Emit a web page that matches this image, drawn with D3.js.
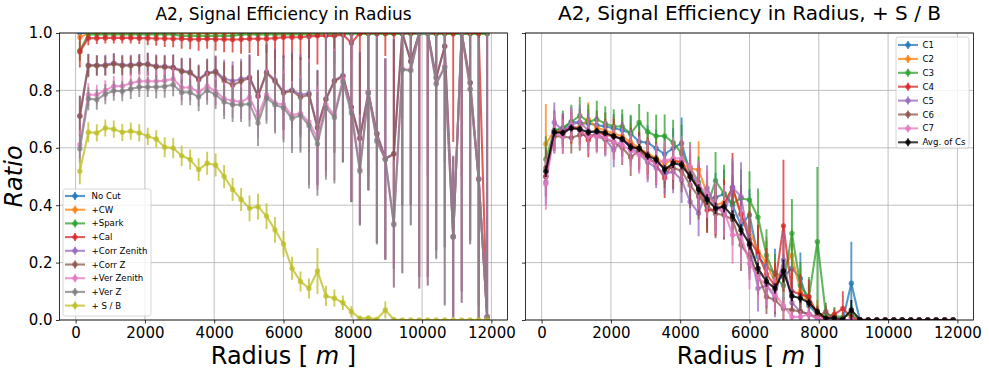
<!DOCTYPE html>
<html>
<head>
<meta charset="utf-8">
<title>A2, Signal Efficiency in Radius</title>
<script src="https://cdn.jsdelivr.net/npm/d3@7"></script>
<style>
  html, body { margin: 0; padding: 0; background: #ffffff; }
  svg text { font-family: "DejaVu Sans", sans-serif; fill: #000000; }
</style>
</head>
<body>
<div id="main"></div>
<script>
// ---- data ----
// bin centres of the radius histogram [m]
const radius = [122, 367, 612, 857, 1102, 1347, 1592, 1837, 2082, 2327, 2571, 2816, 3061, 3306, 3551, 3796, 4041,
  4286, 4531, 4776, 5020, 5265, 5510, 5755, 6000, 6245, 6490, 6735, 6980, 7224, 7469, 7714, 7959, 8204, 8449, 8694,
  8939, 9184, 9429, 9673, 9918, 10163, 10408, 10653, 10898, 11143, 11388, 11633, 11878];
const radiusTicks = [0, 2000, 4000, 6000, 8000, 10000, 12000];
const ratioTicks = [0.0, 0.2, 0.4, 0.6, 0.8, 1.0];

// left panel: cut flow
const cutNames = ['No Cut', '+CW', '+Spark', '+Cal', '+Corr Zenith', '+Corr Z', '+Ver Zenith', '+Ver Z', '+ S / B'];

const noCut = [1, 1, 1, 1, 1, 1, 1, 1, 1, 1, 1, 1, 1, 1, 1, 1, 1, 1, 1, 1, 1, 1, 1, 1, 1, 1, 1, 1, 1, 1, 1, 1, 1, 1, 1,
  1, 1, 1, 1, 1, 1, 1, 1, 1, 1, 1, 1, 1, 1];
const noCutErr = [0, 0, 0, 0, 0, 0, 0, 0, 0, 0, 0, 0, 0, 0, 0, 0, 0, 0, 0, 0, 0, 0, 0, 0, 0, 0, 0, 0, 0, 0, 0, 0, 0, 0,
  0, 0, 0, 0, 0, 0, 0, 0, 0, 0, 0, 0, 0, 0, 0];

const cw = [0.985, 0.999, 0.999, 0.999, 0.999, 0.999, 0.999, 0.999, 0.999, 0.999, 0.999, 0.999, 0.999, 0.999, 0.999,
  0.999, 0.999, 0.999, 0.999, 0.999, 0.999, 0.999, 0.999, 0.999, 0.999, 0.999, 0.999, 0.999, 0.999, 0.999, 0.999,
  0.999, 0.999, 0.999, 0.999, 0.999, 0.999, 0.999, 0.999, 0.999, 0.999, 0.999, 0.999, 0.999, 0.999, 0.999, 0.999,
  0.999, 0.999];
const cwErr = [0.01, 0.002, 0.002, 0.002, 0.002, 0.002, 0.002, 0.002, 0.002, 0.002, 0.002, 0.002, 0.002, 0.002, 0.002,
  0.002, 0.002, 0.002, 0.002, 0.002, 0.002, 0.002, 0.002, 0.002, 0.002, 0.002, 0.002, 0.002, 0.002, 0.002, 0.002,
  0.002, 0.002, 0.002, 0.002, 0.002, 0.002, 0.002, 0.002, 0.002, 0.002, 0.002, 0.002, 0.002, 0.002, 0.002, 0.002,
  0.002, 0.002];

const spark = [0.938, 0.995, 0.995, 0.995, 0.995, 0.995, 0.995, 0.995, 0.995, 0.995, 0.995, 0.995, 0.99, 0.99, 0.99,
  0.99, 0.99, 0.99, 0.99, 0.995, 0.995, 0.995, 0.995, 0.995, 0.995, 0.995, 0.995, 0.995, 0.995, 0.995, 0.995, 0.995,
  0.998, 0.997, 0.997, 0.997, 0.997, 0.997, 0.997, 0.997, 0.997, 0.997, 0.997, 0.997, 0.997, 0.997, 0.997, 0.997,
  0.997];
const sparkErr = [0.035, 0.006, 0.006, 0.006, 0.006, 0.006, 0.006, 0.006, 0.006, 0.006, 0.006, 0.006, 0.006, 0.006,
  0.006, 0.006, 0.006, 0.006, 0.006, 0.006, 0.006, 0.006, 0.006, 0.006, 0.006, 0.006, 0.006, 0.006, 0.006, 0.006,
  0.006, 0.006, 0.006, 0.006, 0.006, 0.006, 0.006, 0.006, 0.006, 0.006, 0.006, 0.006, 0.006, 0.006, 0.006, 0.006,
  0.006, 0.006, 0.006];

const cal = [0.935, 0.982, 0.982, 0.983, 0.983, 0.983, 0.983, 0.982, 0.982, 0.981, 0.981, 0.98, 0.98, 0.978, 0.978,
  0.98, 0.978, 0.978, 0.977, 0.978, 0.98, 0.98, 0.98, 0.982, 0.985, 0.985, 0.985, 0.988, 0.99, 0.99, 0.99, 0.995,
  0.965, 1, 1, 1, 1, 1, 1, 1, 1, 1, 1, 1, 1, 1, 1, 1, 0.0];
const calErr = [0.055, 0.025, 0.02, 0.02, 0.02, 0.02, 0.02, 0.02, 0.025, 0.025, 0.03, 0.03, 0.035, 0.035, 0.04, 0.035,
  0.04, 0.045, 0.045, 0.05, 0.05, 0.06, 0.05, 0.07, 0.07, 0.08, 0.08, 0.09, 0.1, 0.09, 0.1, 0.12, 0.06, 0.29, 0.5,
  0.45, 0.08, 0.55, 0.3, 0.6, 0.45, 0.5, 0.3, 0.45, 0.38, 0.5, 0.6, 0.95, 0.0];

const corrZenith = [0.712, 0.888, 0.888, 0.889, 0.895, 0.889, 0.889, 0.892, 0.892, 0.885, 0.884, 0.881, 0.869, 0.864,
  0.84, 0.861, 0.867, 0.842, 0.832, 0.84, 0.846, 0.782, 0.864, 0.836, 0.795, 0.802, 0.785, 0.79, 0.672, 0.771, 0.835,
  0.852, 0.742, 0.635, 0.794, 0.651, 0.563, 0.58, 1.0, 0.903, 1.0, 1.0, 0.845, 0.955, 0.292, 1.0, 0.828, 0.492, 0.012];
const corrZenithErr = [0.07, 0.04, 0.035, 0.035, 0.035, 0.035, 0.035, 0.035, 0.04, 0.04, 0.04, 0.045, 0.045, 0.05,
  0.05, 0.05, 0.055, 0.065, 0.07, 0.07, 0.08, 0.09, 0.1, 0.11, 0.13, 0.13, 0.14, 0.2, 0.2, 0.25, 0.25, 0.3, 0.33, 0.3,
  0.34, 0.38, 0.35, 0.4, 0.6, 0.5, 0.85, 0.85, 0.6, 0.7, 0.28, 0.9, 0.55, 0.5, 1.0];

const corrZ = [0.71, 0.886, 0.886, 0.886, 0.893, 0.886, 0.886, 0.89, 0.89, 0.882, 0.881, 0.878, 0.866, 0.861, 0.837,
  0.858, 0.864, 0.834, 0.818, 0.832, 0.843, 0.779, 0.861, 0.832, 0.791, 0.799, 0.776, 0.785, 0.669, 0.768, 0.832,
  0.849, 0.74, 0.632, 0.791, 0.648, 0.561, 0.578, 1.0, 0.901, 1.0, 1.0, 0.843, 0.953, 0.289, 1.0, 0.826, 0.49, 0.01];
const corrZErr = [0.07, 0.04, 0.035, 0.035, 0.035, 0.035, 0.035, 0.035, 0.04, 0.04, 0.04, 0.045, 0.045, 0.05, 0.05,
  0.05, 0.055, 0.065, 0.07, 0.07, 0.08, 0.09, 0.1, 0.11, 0.13, 0.13, 0.14, 0.2, 0.2, 0.25, 0.25, 0.3, 0.33, 0.3, 0.34,
  0.38, 0.35, 0.4, 0.6, 0.5, 0.85, 0.85, 0.6, 0.7, 0.28, 0.9, 0.55, 0.5, 1.0];

const verZenith = [0.611, 0.785, 0.785, 0.8, 0.815, 0.815, 0.825, 0.832, 0.832, 0.832, 0.834, 0.84, 0.81, 0.81, 0.795,
  0.815, 0.797, 0.771, 0.764, 0.76, 0.776, 0.713, 0.785, 0.756, 0.75, 0.713, 0.72, 0.69, 0.634, 0.75, 0.715, 0.84,
  0.73, 0.525, 0.795, 0.628, 0.561, 0.336, 0.875, 0.872, 1.0, 1.0, 0.826, 0.884, 0.292, 1.0, 0.806, 0.492, 0.012];
const verZenithErr = [0.05, 0.04, 0.035, 0.035, 0.035, 0.035, 0.035, 0.035, 0.035, 0.04, 0.04, 0.04, 0.045, 0.045,
  0.05, 0.05, 0.05, 0.06, 0.06, 0.06, 0.08, 0.08, 0.09, 0.1, 0.12, 0.12, 0.13, 0.22, 0.18, 0.25, 0.23, 0.28, 0.31,
  0.19, 0.34, 0.36, 0.35, 0.22, 0.71, 0.54, 0.89, 0.88, 0.61, 0.83, 0.28, 0.94, 0.54, 0.49, 1.0];

const verZ = [0.597, 0.771, 0.768, 0.787, 0.799, 0.797, 0.805, 0.812, 0.812, 0.812, 0.814, 0.82, 0.793, 0.793, 0.777,
  0.8, 0.785, 0.76, 0.75, 0.75, 0.753, 0.686, 0.774, 0.75, 0.739, 0.702, 0.713, 0.678, 0.613, 0.739, 0.706, 0.83,
  0.721, 0.518, 0.791, 0.623, 0.559, 0.332, 0.872, 0.869, 1.0, 1.0, 0.822, 0.88, 0.289, 1.0, 0.803, 0.49, 0.01];
const verZErr = [0.05, 0.04, 0.035, 0.035, 0.035, 0.035, 0.035, 0.035, 0.035, 0.04, 0.04, 0.04, 0.045, 0.045, 0.05,
  0.05, 0.05, 0.06, 0.06, 0.06, 0.08, 0.08, 0.09, 0.1, 0.12, 0.12, 0.13, 0.22, 0.18, 0.25, 0.23, 0.28, 0.31, 0.19,
  0.34, 0.36, 0.35, 0.22, 0.71, 0.54, 0.89, 0.88, 0.61, 0.83, 0.28, 0.94, 0.54, 0.49, 1.0];

const sOverB = [0.518, 0.654, 0.652, 0.669, 0.665, 0.654, 0.658, 0.652, 0.64, 0.631, 0.602, 0.599, 0.572, 0.559,
  0.524, 0.546, 0.54, 0.5, 0.455, 0.42, 0.389, 0.395, 0.362, 0.314, 0.265, 0.18, 0.134, 0.11, 0.171, 0.084, 0.076,
  0.06, 0.029, 0.006, 0.007, 0.003, 0.035, 0.002, 0, 0, 0, 0, 0, 0, 0, 0, 0, 0, 0];
const sOverBErr = [0.045, 0.035, 0.03, 0.03, 0.03, 0.03, 0.03, 0.03, 0.03, 0.03, 0.035, 0.035, 0.035, 0.035, 0.04,
  0.04, 0.04, 0.04, 0.04, 0.04, 0.045, 0.045, 0.045, 0.045, 0.045, 0.04, 0.035, 0.035, 0.08, 0.035, 0.03, 0.025, 0.02,
  0.008, 0.008, 0.005, 0.03, 0.005, 0, 0, 0, 0, 0, 0, 0, 0, 0, 0, 0];

// right panel: S / B per C
const cNames = ['C1', 'C2', 'C3', 'C4', 'C5', 'C6', 'C7', 'Avg. of Cs'];

const c1 = [0.5, 0.66, 0.665, 0.691, 0.687, 0.685, 0.679, 0.674, 0.668, 0.662, 0.65, 0.621, 0.618, 0.598, 0.578, 0.598,
  0.616, 0.51, 0.47, 0.42, 0.427, 0.439, 0.4, 0.33, 0.366, 0.221, 0.186, 0.163, 0.15, 0.18, 0.145, 0.05, 0.02, 0.005,
  0, 0, 0.128, 0, 0, 0, 0, 0, 0, 0, 0, 0, 0, 0, 0];
const c1Err = [0.07, 0.06, 0.05, 0.05, 0.05, 0.05, 0.05, 0.05, 0.05, 0.055, 0.06, 0.06, 0.06, 0.065, 0.065, 0.07, 0.09,
  0.08, 0.08, 0.08, 0.085, 0.085, 0.09, 0.09, 0.09, 0.09, 0.09, 0.085, 0.08, 0.085, 0.09, 0.07, 0.03, 0.01, 0, 0,
  0.145, 0, 0, 0, 0, 0, 0, 0, 0, 0, 0, 0, 0];

const c2 = [0.613, 0.66, 0.66, 0.672, 0.672, 0.699, 0.67, 0.66, 0.65, 0.64, 0.62, 0.6, 0.58, 0.565, 0.545, 0.56, 0.545,
  0.528, 0.523, 0.44, 0.4, 0.41, 0.46, 0.366, 0.314, 0.24, 0.2, 0.13, 0.186, 0.226, 0.1, 0.06, 0.03, 0, 0, 0, 0, 0, 0,
  0, 0, 0, 0, 0, 0, 0, 0, 0, 0];
const c2Err = [0.14, 0.07, 0.06, 0.06, 0.06, 0.06, 0.06, 0.06, 0.06, 0.06, 0.065, 0.065, 0.07, 0.07, 0.07, 0.07, 0.075,
  0.08, 0.1, 0.08, 0.085, 0.085, 0.09, 0.09, 0.09, 0.09, 0.09, 0.08, 0.09, 0.09, 0.08, 0.06, 0.04, 0, 0, 0, 0, 0, 0,
  0, 0, 0, 0, 0, 0, 0, 0, 0, 0];

const c3 = [0.56, 0.66, 0.67, 0.69, 0.712, 0.691, 0.699, 0.685, 0.674, 0.674, 0.65, 0.688, 0.656, 0.641, 0.641, 0.618,
  0.58, 0.53, 0.48, 0.397, 0.485, 0.441, 0.406, 0.424, 0.418, 0.358, 0.226, 0.15, 0.12, 0.302, 0.12, 0.08, 0.273,
  0.02, 0.015, 0.01, 0.02, 0, 0, 0, 0, 0, 0, 0, 0, 0, 0, 0, 0];
const c3Err = [0.08, 0.07, 0.06, 0.06, 0.065, 0.06, 0.065, 0.06, 0.06, 0.06, 0.065, 0.065, 0.07, 0.075, 0.075, 0.08,
  0.1, 0.09, 0.09, 0.09, 0.1, 0.1, 0.1, 0.1, 0.1, 0.1, 0.09, 0.08, 0.09, 0.12, 0.08, 0.07, 0.26, 0.03, 0.03, 0.02,
  0.03, 0, 0, 0, 0, 0, 0, 0, 0, 0, 0, 0, 0];

const c4 = [0.5, 0.65, 0.66, 0.67, 0.665, 0.627, 0.655, 0.645, 0.64, 0.63, 0.61, 0.59, 0.57, 0.54, 0.495, 0.552, 0.552,
  0.5, 0.46, 0.383, 0.383, 0.4, 0.462, 0.37, 0.28, 0.232, 0.16, 0.12, 0.328, 0.1, 0.09, 0.081, 0.02, 0.005, 0.02,
  0.04, 0.01, 0, 0, 0, 0, 0, 0, 0, 0, 0, 0, 0, 0];
const c4Err = [0.07, 0.06, 0.055, 0.055, 0.055, 0.06, 0.055, 0.055, 0.06, 0.06, 0.06, 0.065, 0.065, 0.07, 0.07, 0.07,
  0.075, 0.08, 0.08, 0.08, 0.09, 0.09, 0.12, 0.1, 0.1, 0.1, 0.09, 0.08, 0.23, 0.08, 0.07, 0.06, 0.03, 0.01, 0.02,
  0.06, 0.01, 0, 0, 0, 0, 0, 0, 0, 0, 0, 0, 0, 0];

const c5 = [0.48, 0.688, 0.66, 0.68, 0.69, 0.66, 0.65, 0.63, 0.592, 0.63, 0.6, 0.58, 0.55, 0.53, 0.51, 0.517, 0.488,
  0.412, 0.372, 0.459, 0.4, 0.37, 0.462, 0.43, 0.26, 0.11, 0.12, 0.08, 0.209, 0.06, 0.03, 0.02, 0.005, 0, 0, 0, 0, 0,
  0, 0, 0, 0, 0, 0, 0, 0, 0, 0, 0];
const c5Err = [0.08, 0.07, 0.06, 0.06, 0.06, 0.06, 0.06, 0.06, 0.06, 0.06, 0.065, 0.065, 0.07, 0.07, 0.07, 0.075, 0.08,
  0.08, 0.08, 0.08, 0.09, 0.09, 0.1, 0.12, 0.1, 0.08, 0.08, 0.07, 0.1, 0.05, 0.03, 0.02, 0.01, 0, 0, 0, 0, 0, 0, 0, 0,
  0, 0, 0, 0, 0, 0, 0, 0];

const c6 = [0.53, 0.64, 0.639, 0.635, 0.645, 0.645, 0.64, 0.63, 0.62, 0.6, 0.567, 0.59, 0.56, 0.55, 0.53, 0.53, 0.52,
  0.47, 0.43, 0.4, 0.37, 0.366, 0.35, 0.261, 0.22, 0.157, 0.081, 0.07, 0.04, 0.035, 0.03, 0.02, 0.01, 0.03, 0, 0, 0,
  0, 0, 0, 0, 0, 0, 0, 0, 0, 0, 0, 0];
const c6Err = [0.07, 0.06, 0.06, 0.055, 0.055, 0.055, 0.055, 0.055, 0.06, 0.06, 0.065, 0.065, 0.07, 0.07, 0.07, 0.075,
  0.075, 0.08, 0.08, 0.08, 0.085, 0.085, 0.09, 0.09, 0.08, 0.07, 0.06, 0.05, 0.04, 0.035, 0.03, 0.02, 0.01, 0.03, 0,
  0, 0, 0, 0, 0, 0, 0, 0, 0, 0, 0, 0, 0, 0];

const c7 = [0.474, 0.65, 0.64, 0.68, 0.66, 0.64, 0.64, 0.635, 0.62, 0.61, 0.59, 0.575, 0.56, 0.545, 0.555, 0.563,
  0.563, 0.534, 0.47, 0.44, 0.39, 0.38, 0.296, 0.296, 0.197, 0.15, 0.12, 0.09, 0.05, 0.011, 0.011, 0.02, 0.005, 0, 0,
  0, 0, 0, 0, 0, 0, 0, 0, 0, 0, 0, 0, 0, 0];
const c7Err = [0.09, 0.07, 0.06, 0.06, 0.06, 0.06, 0.06, 0.06, 0.06, 0.06, 0.065, 0.065, 0.07, 0.07, 0.07, 0.075, 0.08,
  0.08, 0.085, 0.085, 0.09, 0.09, 0.1, 0.1, 0.09, 0.08, 0.07, 0.06, 0.05, 0.02, 0.02, 0.02, 0.01, 0, 0, 0, 0, 0, 0, 0,
  0, 0, 0, 0, 0, 0, 0, 0, 0];

const avgCs = [0.518, 0.654, 0.652, 0.669, 0.665, 0.654, 0.658, 0.652, 0.64, 0.631, 0.602, 0.599, 0.572, 0.559,
  0.524, 0.546, 0.54, 0.5, 0.455, 0.42, 0.389, 0.395, 0.362, 0.314, 0.265, 0.18, 0.134, 0.11, 0.171, 0.084, 0.076,
  0.06, 0.029, 0.006, 0.007, 0.003, 0.035, 0.002, 0, 0, 0, 0, 0, 0, 0, 0, 0, 0, 0];
const avgCsErr = [0.02, 0.015, 0.012, 0.012, 0.012, 0.012, 0.012, 0.012, 0.012, 0.012, 0.014, 0.014, 0.014, 0.015,
  0.016, 0.016, 0.016, 0.018, 0.018, 0.018, 0.02, 0.02, 0.02, 0.02, 0.02, 0.02, 0.018, 0.018, 0.04, 0.018, 0.016,
  0.014, 0.012, 0.006, 0.006, 0.004, 0.035, 0.004, 0, 0, 0, 0, 0, 0, 0, 0, 0, 0, 0];

!(function () {
  'use strict';
  // - - - - - - - - - -

  // declaration
  let
    svg = undefined,
    canvas = {},
    panels = {},
    palette = [];

  // configuration
  canvas = {
    context: '#main',
    width: 989,
    height: 375
  };
  panels = {
    left: { x0: 59.5, x1: 507.5, y0: 33, y1: 320 },
    right: { x0: 525.5, x1: 973.5, y0: 33, y1: 320 }
  };
  // matplotlib tab10
  palette = ['#1f77b4', '#ff7f0e', '#2ca02c', '#d62728', '#9467bd', '#8c564b', '#e377c2', '#7f7f7f', '#bcbd22'];

  const alpha = 0.75;
  const xDomain = [-465, 12465]; // data range plus 5% margin

  // methods
  function setCanvas() {
    svg = d3.select(canvas.context)
      .append('svg')
      .attr('width', canvas.width)
      .attr('height', canvas.height)
      .attr('viewBox', '0 0 ' + canvas.width + ' ' + canvas.height);
    svg.append('rect')
      .attr('width', canvas.width)
      .attr('height', canvas.height)
      .attr('fill', '#ffffff');
  }

  function makeScales(p) {
    return {
      x: d3.scaleLinear().domain(xDomain).range([p.x0, p.x1]),
      y: d3.scaleLinear().domain([0, 1]).range([p.y1, p.y0])
    };
  }

  function setPanel(name, p) {
    const sc = makeScales(p);
    const g = svg.append('g').attr('class', 'panel-' + name);

    g.append('clipPath')
      .attr('id', 'clip-' + name)
      .append('rect')
      .attr('x', p.x0).attr('y', p.y0)
      .attr('width', p.x1 - p.x0).attr('height', p.y1 - p.y0);

    // grid
    const grid = g.append('g').attr('class', 'grid');
    grid.selectAll('line.gx').data(radiusTicks).join('line')
      .attr('x1', d => sc.x(d)).attr('x2', d => sc.x(d))
      .attr('y1', p.y0).attr('y2', p.y1)
      .attr('stroke', '#b0b0b0').attr('stroke-width', 0.8);
    grid.selectAll('line.gy').data(ratioTicks).join('line')
      .attr('x1', p.x0).attr('x2', p.x1)
      .attr('y1', d => sc.y(d)).attr('y2', d => sc.y(d))
      .attr('stroke', '#b0b0b0').attr('stroke-width', 0.8);

    const plot = g.append('g').attr('clip-path', 'url(#clip-' + name + ')');
    return { g: g, plot: plot, sc: sc, p: p };
  }

  function drawSeries(panel, vals, errs, color, opts) {
    const sc = panel.sc;
    const a = opts && opts.alpha !== undefined ? opts.alpha : alpha;
    const pts = radius.map((r, i) => ({ r: r, v: vals[i], e: errs[i] }));
    const s = panel.plot.append('g');

    s.selectAll('line').data(pts.filter(d => d.e > 0)).join('line')
      .attr('x1', d => sc.x(d.r)).attr('x2', d => sc.x(d.r))
      .attr('y1', d => sc.y(d.v - d.e)).attr('y2', d => sc.y(d.v + d.e))
      .attr('stroke', color).attr('stroke-width', 1.9).attr('stroke-opacity', a);

    const line = d3.line().x(d => sc.x(d.r)).y(d => sc.y(d.v));
    s.append('path').datum(pts)
      .attr('d', line)
      .attr('fill', 'none')
      .attr('stroke', color).attr('stroke-width', 2.1).attr('stroke-opacity', a)
      .attr('stroke-linejoin', 'round');

    s.selectAll('circle').data(pts).join('circle')
      .attr('cx', d => sc.x(d.r)).attr('cy', d => sc.y(d.v))
      .attr('r', 2.7)
      .attr('fill', color).attr('fill-opacity', a);
  }

  function drawAxes(panel, withYLabels) {
    const sc = panel.sc, p = panel.p, g = panel.g;

    const xAxis = g.append('g')
      .attr('transform', 'translate(0,' + p.y1 + ')')
      .call(d3.axisBottom(sc.x).tickValues(radiusTicks).tickFormat(d3.format('d'))
        .tickSizeOuter(0).tickSize(3.5).tickPadding(3.5));
    xAxis.select('.domain').remove();
    xAxis.selectAll('line').attr('stroke', '#000').attr('stroke-width', 0.8);
    xAxis.selectAll('text').attr('font-size', 15).attr('font-family', '"DejaVu Sans", sans-serif');

    const yAxis = g.append('g')
      .attr('transform', 'translate(' + p.x0 + ',0)')
      .call(d3.axisLeft(sc.y).tickValues(ratioTicks).tickFormat(d3.format('.1f'))
        .tickSizeOuter(0).tickSize(3.5).tickPadding(3.5));
    yAxis.select('.domain').remove();
    yAxis.selectAll('line').attr('stroke', '#000').attr('stroke-width', 0.8);
    if (withYLabels) {
      yAxis.selectAll('text').attr('font-size', 15).attr('font-family', '"DejaVu Sans", sans-serif');
    } else {
      yAxis.selectAll('text').remove();
    }

    // spines
    g.append('rect')
      .attr('x', p.x0).attr('y', p.y0)
      .attr('width', p.x1 - p.x0).attr('height', p.y1 - p.y0)
      .attr('fill', 'none').attr('stroke', '#000').attr('stroke-width', 0.8);

    // x label: Radius [ m ]
    const xl = g.append('text')
      .attr('x', (p.x0 + p.x1) / 2).attr('y', 364)
      .attr('text-anchor', 'middle').attr('font-size', 24);
    xl.append('tspan').text('Radius [ ');
    xl.append('tspan').attr('font-style', 'italic').text('m');
    xl.append('tspan').text(' ]');
  }

  function drawTitle(panel, text, size) {
    const p = panel.p;
    panel.g.append('text')
      .attr('x', (p.x0 + p.x1) / 2).attr('y', 19.5)
      .attr('text-anchor', 'middle').attr('font-size', size)
      .text(text);
  }

  function drawLegend(panel, names, colors, box) {
    const lg = panel.g.append('g').attr('class', 'legend');
    lg.append('rect')
      .attr('x', box.x).attr('y', box.y)
      .attr('width', box.w).attr('height', box.h)
      .attr('rx', 2.5)
      .attr('fill', '#ffffff').attr('fill-opacity', 0.8)
      .attr('stroke', '#cccccc').attr('stroke-width', 0.8);

    names.forEach((name, i) => {
      const cy = box.first + i * box.step;
      const c = colors[i];
      const mid = box.sx + 10;
      lg.append('line')
        .attr('x1', box.sx).attr('x2', box.sx + 20).attr('y1', cy).attr('y2', cy)
        .attr('stroke', c).attr('stroke-width', 2.1).attr('stroke-opacity', alpha);
      lg.append('line')
        .attr('x1', mid).attr('x2', mid).attr('y1', cy - 4).attr('y2', cy + 4)
        .attr('stroke', c).attr('stroke-width', 1.9).attr('stroke-opacity', alpha);
      lg.append('circle')
        .attr('cx', mid).attr('cy', cy).attr('r', 2.7)
        .attr('fill', c).attr('fill-opacity', alpha);
      lg.append('text')
        .attr('x', box.tx).attr('y', cy)
        .attr('dy', '0.36em')
        .attr('font-size', 8.6)
        .text(name);
    });
  }

  // control
  setCanvas();

  const left = setPanel('left', panels.left);
  const leftVals = [noCut, cw, spark, cal, corrZenith, corrZ, verZenith, verZ, sOverB];
  const leftErrs = [noCutErr, cwErr, sparkErr, calErr, corrZenithErr, corrZErr, verZenithErr, verZErr, sOverBErr];
  leftVals.forEach((v, i) => drawSeries(left, v, leftErrs[i], palette[i]));
  drawAxes(left, true);
  drawTitle(left, 'A2, Signal Efficiency in Radius', 17);
  drawLegend(left, cutNames, palette, { x: 63, y: 189, w: 88, h: 127, first: 196, step: 13.7, sx: 65, tx: 91.5 });

  // y label
  svg.append('text')
    .attr('transform', 'translate(22,176.5) rotate(-90)')
    .attr('text-anchor', 'middle')
    .attr('font-size', 24)
    .attr('font-style', 'italic')
    .text('Ratio');

  const right = setPanel('right', panels.right);
  const rightVals = [c1, c2, c3, c4, c5, c6, c7];
  const rightErrs = [c1Err, c2Err, c3Err, c4Err, c5Err, c6Err, c7Err];
  rightVals.forEach((v, i) => drawSeries(right, v, rightErrs[i], palette[i]));
  drawSeries(right, avgCs, avgCsErr, '#000000', { alpha: 0.8 });
  drawAxes(right, false);
  drawTitle(right, 'A2, Signal Efficiency in Radius, + S / B', 20);
  drawLegend(right, cNames, palette.slice(0, 7).concat(['#000000']),
    { x: 896, y: 37, w: 73, h: 111, first: 45, step: 13.9, sx: 898, tx: 922.5 });

  // - - - - - - - - - -
}());
</script>
</body>
</html>
